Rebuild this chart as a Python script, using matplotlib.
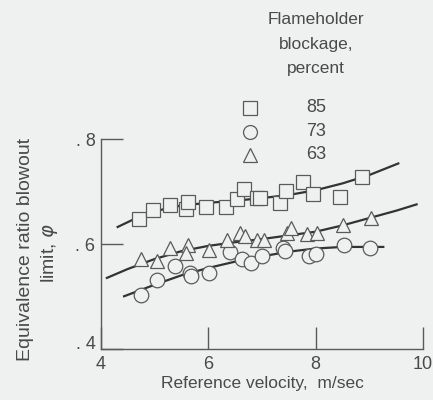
import matplotlib
matplotlib.use("Agg")
import matplotlib.pyplot as plt
from matplotlib.lines import Line2D
from matplotlib.transforms import ScaledTranslation

# === DATA ===
blockage = ["85", "73", "63"]
markers = ["s", "o", "^"]

# 85 percent blockage (squares)
sq_x = [4.71, 4.96, 5.29, 5.58, 5.62, 5.96, 6.33, 6.53, 6.66, 6.91, 6.97, 7.34, 7.44, 7.76, 7.95, 8.46, 8.86]
sq_y = [0.649, 0.666, 0.675, 0.668, 0.680, 0.671, 0.671, 0.687, 0.705, 0.689, 0.688, 0.679, 0.701, 0.719, 0.695, 0.691, 0.729]
sq_fit_x = [4.31, 4.7, 5.0, 5.5, 6.0, 6.5, 7.0, 7.5, 8.0, 8.5, 9.0, 9.54]
sq_fit_y = [0.633, 0.652, 0.663, 0.674, 0.679, 0.683, 0.688, 0.694, 0.703, 0.716, 0.732, 0.754]

# 73 percent blockage (circles)
ci_x = [4.74, 5.05, 5.37, 5.66, 5.67, 6.01, 6.40, 6.63, 6.79, 7.00, 7.40, 7.43, 7.87, 8.01, 8.52, 9.01]
ci_y = [0.504, 0.532, 0.559, 0.545, 0.539, 0.546, 0.585, 0.572, 0.564, 0.577, 0.593, 0.587, 0.578, 0.582, 0.599, 0.593]
ci_fit_x = [4.43, 5.0, 5.5, 6.0, 6.5, 7.0, 7.5, 8.0, 8.5, 9.26]
ci_fit_y = [0.501, 0.523, 0.541, 0.555, 0.567, 0.577, 0.586, 0.592, 0.595, 0.595]

# 63 percent blockage (triangles)
tr_x = [4.74, 5.04, 5.29, 5.62, 5.59, 6.01, 6.35, 6.59, 6.69, 6.91, 7.03, 7.47, 7.54, 7.83, 8.02, 8.51, 9.03]
tr_y = [0.572, 0.568, 0.593, 0.599, 0.584, 0.589, 0.609, 0.622, 0.615, 0.609, 0.609, 0.622, 0.631, 0.619, 0.622, 0.636, 0.650]
tr_fit_x = [4.11, 4.5, 5.0, 5.5, 6.0, 6.5, 7.0, 7.5, 8.0, 8.5, 9.0, 9.5, 9.88]
tr_fit_y = [0.536, 0.553, 0.572, 0.587, 0.597, 0.604, 0.610, 0.617, 0.624, 0.636, 0.650, 0.664, 0.676]

x_ticks = [4, 6, 8, 10]
y_ticks = [0.4, 0.6, 0.8]
y_tick_labels = [". 4", ". 6", ". 8"]

# === STYLE ===
plt.rcParams["font.family"] = ["Liberation Sans", "DejaVu Sans"]
text_color = "#4a4a4a"
mark_color = "#5a5a5a"
line_color = "#333333"
bg = "#eff0f0"
fs = 12.5

fig = plt.figure(figsize=(4.33, 4.0), dpi=100, facecolor=bg)
ax = fig.add_axes([101 / 433, 1 - 349.3 / 400, (423 - 101) / 433, (349.3 - 139.3) / 400])
ax.set_facecolor(bg)

series = [
    (sq_x, sq_y, sq_fit_x, sq_fit_y, "s", 9.5),
    (ci_x, ci_y, ci_fit_x, ci_fit_y, "o", 10.5),
    (tr_x, tr_y, tr_fit_x, tr_fit_y, "^", 10.5),
]
for x, y, fx, fy, m, ms in series:
    ax.plot(fx, fy, color=line_color, lw=1.6, zorder=2)
    ax.plot(x, y, linestyle="none", marker=m, markersize=ms, markerfacecolor=bg,
            markeredgecolor=mark_color, markeredgewidth=0.9, zorder=3)

ax.set_xlim(4, 10)
ax.set_ylim(0.4, 0.8)
ax.set_xticks(x_ticks)
ax.set_xticklabels([str(t) for t in x_ticks])
ax.set_yticks(y_ticks)
ax.set_yticklabels(y_tick_labels)
ax.spines["top"].set_visible(False)
ax.spines["right"].set_visible(False)
for s in ["left", "bottom"]:
    ax.spines[s].set_color(mark_color)
    ax.spines[s].set_linewidth(1.0)
ax.tick_params(axis="both", direction="in", length=16, width=1.0, color=mark_color,
               labelcolor=text_color, labelsize=13)
ax.tick_params(axis="y", pad=4)
ax.tick_params(axis="x", pad=5)
# the ".4" label sits a little above the axis line in the original
ax.get_yticklabels()[0].set_transform(
    ax.get_yticklabels()[0].get_transform() + ScaledTranslation(0, 5 / 72, fig.dpi_scale_trans))

ax.set_xlabel("Reference velocity,  m/sec", fontsize=fs, color=text_color, labelpad=2)
fig.text(26 / 433, 1 - 249 / 400, "Equivalence ratio blowout", rotation=90,
         ha="center", va="center", fontsize=14, color=text_color)
fig.text(49 / 433, 1 - 253 / 400, r"limit, $\varphi$", rotation=90,
         ha="center", va="center", fontsize=14, color=text_color)

# === LEGEND (drawn by hand, like the original) ===
for i, line in enumerate(["Flameholder", "blockage,", "percent"]):
    fig.text(316 / 433, 1 - (20 + 24 * i) / 400, line, ha="center", va="center",
             fontsize=fs, color=text_color)
leg_y = [108, 132, 155]
for lab, m, yy in zip(blockage, markers, leg_y):
    fig.add_artist(Line2D([250 / 433], [1 - yy / 400], transform=fig.transFigure,
                          marker=m, markersize=10, markerfacecolor=bg,
                          markeredgecolor=mark_color, markeredgewidth=0.9, linestyle="none"))
    fig.text(316 / 433, 1 - yy / 400, lab, ha="center", va="center", fontsize=13,
             color=text_color)

fig.savefig("out.png", dpi=100, facecolor=bg)
